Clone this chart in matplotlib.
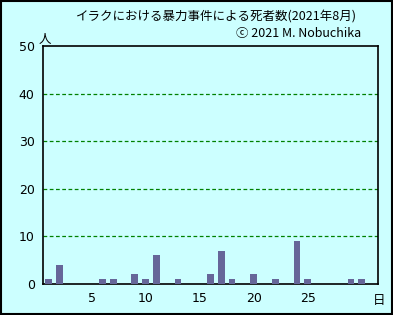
import matplotlib
matplotlib.use('Agg')
import matplotlib.pyplot as plt
from matplotlib.patches import Rectangle

plt.rcParams['font.family'] = ['Noto Sans CJK JP', 'DejaVu Sans']

days = list(range(1, 32))
deaths = [1, 4, 0, 0, 0, 1, 1, 0, 2, 1, 6, 0, 1, 0, 0, 2, 7, 1, 0, 2,
          0, 1, 0, 9, 1, 0, 0, 0, 1, 1, 0]
xtick_days = [5, 10, 15, 20, 25]
yticks = [0, 10, 20, 30, 40, 50]

bg = '#CCFFFF'
fig = plt.figure(figsize=(3.93, 3.15), dpi=100, facecolor=bg)
ax = fig.add_axes([0.1094, 0.0984, 0.8524, 0.7556], facecolor=bg)

ax.bar(days, deaths, width=0.62, color='#666699', zorder=3)

ax.set_xlim(0.5, 31.5)
ax.set_ylim(0, 50)
ax.set_xticks(xtick_days)
ax.set_yticks(yticks)
ax.tick_params(length=0, labelsize=9, pad=6)
for lab in ax.get_xticklabels() + ax.get_yticklabels():
    lab.set_family(['DejaVu Sans'])

# green dashed grid (not at 0 or 50)
for y in yticks[1:-1]:
    ax.axhline(y, color='green', linestyle=(0, (3, 2)), linewidth=0.9, zorder=1)

for s in ax.spines.values():
    s.set_linewidth(1.2)

fig.text(0.55, 0.945, 'イラクにおける暴力事件による死者数(2021年8月)',
         ha='center', va='center', fontsize=9)
fig.text(0.92, 0.895, 'ⓒ 2021 M. Nobuchika', ha='right', va='center',
         fontsize=9, family=['Noto Sans CJK JP', 'DejaVu Sans'])
fig.text(0.115, 0.875, '人', ha='center', va='center', fontsize=9)
fig.text(0.965, 0.045, '日', ha='center', va='center', fontsize=9)

fig.add_artist(Rectangle((0.002, 0.003), 0.995, 0.993, transform=fig.transFigure,
                         fill=False, edgecolor='black', linewidth=1.5))

fig.savefig('out.png', dpi=100, facecolor=bg)
plt.close(fig)
